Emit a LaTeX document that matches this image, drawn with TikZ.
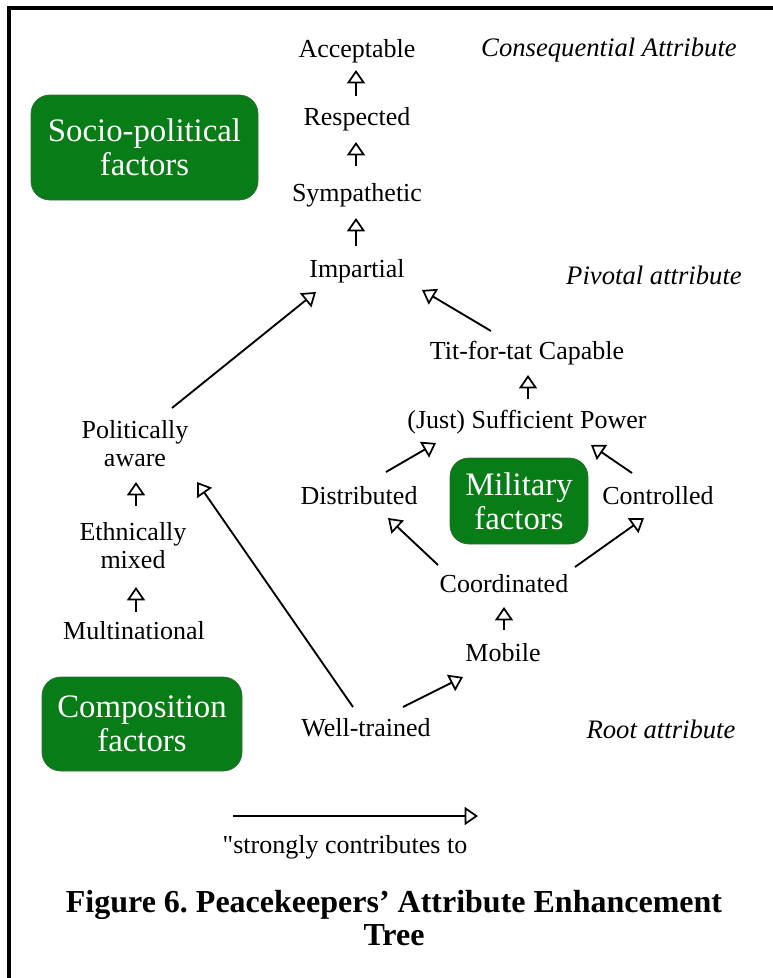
\documentclass[tikz,border=0pt]{standalone}
\usepackage{fontspec}
\setmainfont{Liberation Serif}
\usetikzlibrary{arrows.meta,calc}
\definecolor{fgreen}{RGB}{8,124,22}
\frenchspacing
\begin{document}
\begin{tikzpicture}[x=0.75pt,y=-0.75pt,
  lbl/.style={font=\fontsize{19.5}{21}\selectfont, inner sep=0pt, anchor=base},
  lbl2/.style={font=\fontsize{19.5}{21}\selectfont, inner sep=0pt, align=center},
  ital/.style={font=\fontsize{20}{24}\selectfont\itshape, inner sep=0pt, anchor=base},
  gbox/.style={fill=fgreen, draw=fgreen!75!black!60!gray, line width=0.5pt, rounded corners=14pt,
     text=white, align=center, font=\fontsize{24.6}{25.5}\selectfont, inner sep=0pt},
  arr/.style={line width=1.4pt, -{Triangle[open, length=10pt, width=13.5pt, line width=1.3pt]}}
]
\useasboundingbox (0,0) rectangle (773,978);
% frame
\draw[line width=2.4pt] (9,1000) -- (9,8) -- (800,8);

% green boxes
\node[gbox, minimum width=170.25pt, minimum height=78.75pt] (socio) at (144.5,147.5) {Socio-political\\factors};
\node[gbox, minimum width=103.5pt, minimum height=64.5pt] (milit) at (519,501) {Military\\factors};
\node[gbox, minimum width=150pt, minimum height=70.5pt] (compo) at (142,724) {Composition\\factors};

% labels
\node[lbl] (acc) at (357,57) {Acceptable};
\node[lbl] (resp) at (357,125) {Respected};
\node[lbl] (symp) at (357,201) {Sympathetic};
\node[lbl] (imp) at (357,277) {Impartial};
\node[ital] (conseq) at (609,56) {Consequential Attribute};
\node[ital] (pivot) at (654,284) {Pivotal attribute};
\node[ital] (root) at (661,738) {Root attribute};
\node[lbl] (tit) at (527,359) {Tit-for-tat Capable};
\node[lbl] (suff) at (527,428) {(Just) Sufficient Power};
\node[lbl] (dist) at (359,504) {Distributed};
\node[lbl] (ctrl) at (658,504) {Controlled};
\node[lbl] (coord) at (504,592) {Coordinated};
\node[lbl] (mobile) at (503,661) {Mobile};
\node[lbl] (well) at (366,736) {Well-trained};
\node[lbl2] (pol) at (135,444) {Politically\\aware};
\node[lbl2] (ethn) at (133,546) {Ethnically\\mixed};
\node[lbl] (multi) at (134,639) {Multinational};

% arrows
\draw[arr] ($(resp.base)+(-1,-29)$) -- ($(acc.base)+(-1,13)$);
\draw[arr] ($(symp.base)+(-1,-35)$) -- ($(resp.base)+(-1,17)$);
\draw[arr] ($(imp.base)+(-1,-31)$) -- ($(symp.base)+(-1,17)$);
\draw[arr] ($(tit.base)+(-36,-28)$) -- ($(imp.base)+(65,13)$);
\draw[arr] ($(suff.base)+(1,-29)$) -- ($(tit.base)+(1,16)$);
\draw[arr] ($(dist.base)+(27,-32)$) -- ($(suff.base)+(-91,15)$);
\draw[arr] ($(ctrl.base)+(-26,-31)$) -- ($(suff.base)+(64,17)$);
\draw[arr] ($(coord.base)+(-66,-27)$) -- ($(dist.base)+(29,14)$);
\draw[arr] ($(coord.base)+(71,-25)$) -- ($(ctrl.base)+(-14,14)$);
\draw[arr] ($(mobile.base)+(1,-31)$) -- ($(coord.base)+(0,15)$);
\draw[arr] ($(well.base)+(37,-29)$) -- ($(mobile.base)+(-40,16)$);
\draw[arr] ($(well.base)+(-13,-29)$) -- ($(pol)+(62,38)$);
\draw[arr] ($(pol)+(37,-36)$) -- ($(imp.base)+(-41,15)$);
\draw[arr] ($(ethn)+(3,-40)$) -- ($(pol)+(1,38)$);
\draw[arr] ($(multi.base)+(2,-27)$) -- ($(ethn)+(3,41)$);

% legend
\coordinate (legA) at (233,816);
\coordinate (legB) at (478,816);
\draw[arr] (legA) -- (legB);
\node[lbl] (legtxt) at (345,853) {\addfontfeatures{Ligatures=TeXOff}"strongly contributes to};

% title
\node[font=\fontsize{24}{24.75}\selectfont\bfseries, align=center, inner sep=0pt] (title) at (394,918) {Figure 6. Peacekeepers’ Attribute Enhancement\\Tree};
\end{tikzpicture}
\end{document}
